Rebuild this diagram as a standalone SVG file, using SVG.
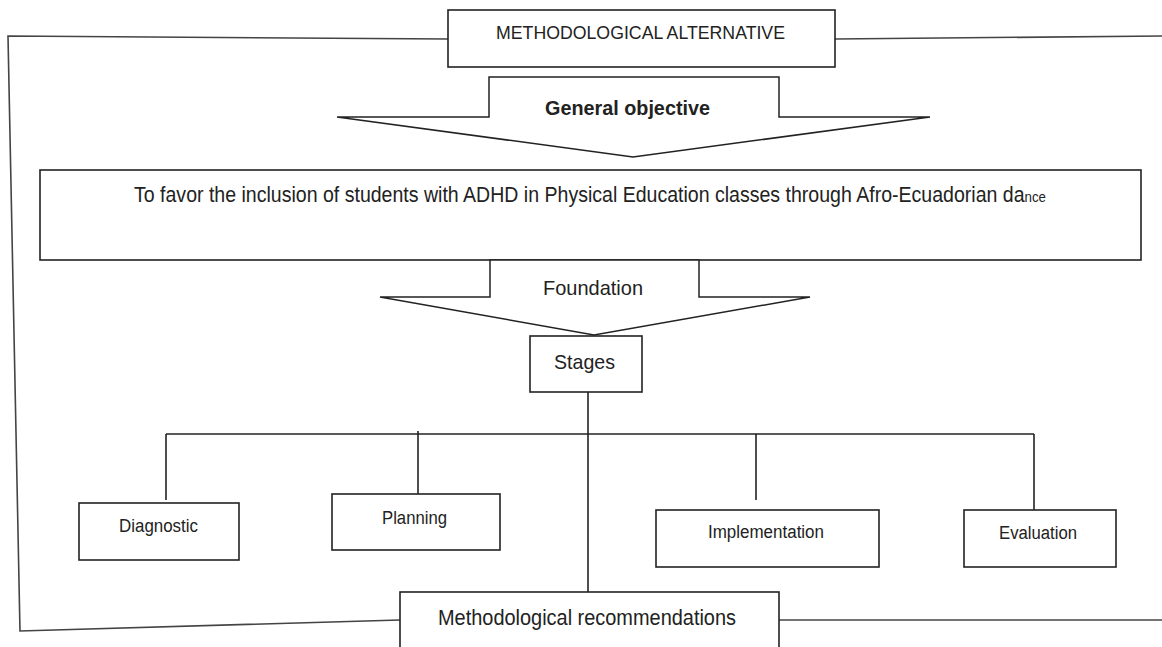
<svg xmlns="http://www.w3.org/2000/svg" width="1162" height="647" viewBox="0 0 1162 647">
<style>
.box{fill:#fff;stroke:#222;stroke-width:1.6}
.arr{fill:#fff;stroke:#222;stroke-width:1.5;stroke-linejoin:miter}
.ln{fill:none;stroke:#222;stroke-width:1.6}
.frame{fill:none;stroke:#444;stroke-width:1.6}
text{font-family:"Liberation Sans",Arial,sans-serif;fill:#222}
</style>
<rect x="0" y="0" width="1162" height="647" fill="#fff"/>
<g id="connectors">
<polyline class="frame" points="448,39 8,36 20,631 400,620"/>
<line class="frame" x1="835" y1="39" x2="1162" y2="36"/>
<line class="frame" x1="779" y1="620" x2="1162" y2="620"/>
<line class="ln" x1="588" y1="392" x2="588" y2="592"/>
<line class="ln" x1="166" y1="434" x2="1034" y2="434"/>
<line class="ln" x1="166" y1="434" x2="166" y2="500"/>
<line class="ln" x1="418" y1="431" x2="418" y2="494"/>
<line class="ln" x1="756" y1="434" x2="756" y2="500"/>
<line class="ln" x1="1034" y1="434" x2="1034" y2="510"/>
</g>
<g id="node-alternative">
<rect class="box" x="448" y="10" width="387" height="57"/>
<text x="496" y="39" font-size="19" textLength="289" lengthAdjust="spacingAndGlyphs">METHODOLOGICAL  ALTERNATIVE</text>
</g>
<g id="node-general-objective-arrow">
<polygon class="arr" points="489,77 779,77 779,117 930,117 633,157 337,117 489,117"/>
<text x="545" y="115" font-size="20" font-weight="bold" textLength="165" lengthAdjust="spacingAndGlyphs">General objective</text>
</g>
<g id="node-objective">
<rect class="box" x="40" y="170" width="1101" height="90"/>
<text x="134" y="202" font-size="22" textLength="912" lengthAdjust="spacingAndGlyphs">To favor the inclusion of students with ADHD in Physical Education classes through Afro-Ecuadorian da<tspan font-size="15">nce</tspan></text>
</g>
<g id="node-foundation-arrow">
<polygon class="arr" points="490,260 699,260 699,297 810,297 594,335 380,297 490,297"/>
<text x="543" y="295" font-size="21" textLength="100" lengthAdjust="spacingAndGlyphs">Foundation</text>
</g>
<g id="node-stages">
<rect class="box" x="530" y="336" width="112" height="56"/>
<text x="554" y="369" font-size="21" textLength="61" lengthAdjust="spacingAndGlyphs">Stages</text>
</g>
<g id="node-diagnostic">
<rect class="box" x="79" y="503" width="160" height="57"/>
<text x="119" y="532" font-size="19" textLength="79" lengthAdjust="spacingAndGlyphs">Diagnostic</text>
</g>
<g id="node-planning">
<rect class="box" x="332" y="494" width="168" height="56"/>
<text x="382" y="524" font-size="19" textLength="65" lengthAdjust="spacingAndGlyphs">Planning</text>
</g>
<g id="node-implementation">
<rect class="box" x="656" y="510" width="223" height="57"/>
<text x="708" y="538" font-size="18" textLength="116" lengthAdjust="spacingAndGlyphs">Implementation</text>
</g>
<g id="node-evaluation">
<rect class="box" x="964" y="510" width="152" height="57"/>
<text x="999" y="539" font-size="18" textLength="78" lengthAdjust="spacingAndGlyphs">Evaluation</text>
</g>
<g id="node-recommendations">
<rect class="box" x="400" y="592" width="379" height="70"/>
<text x="438" y="625" font-size="22" textLength="298" lengthAdjust="spacingAndGlyphs">Methodological recommendations</text>
</g>
</svg>
